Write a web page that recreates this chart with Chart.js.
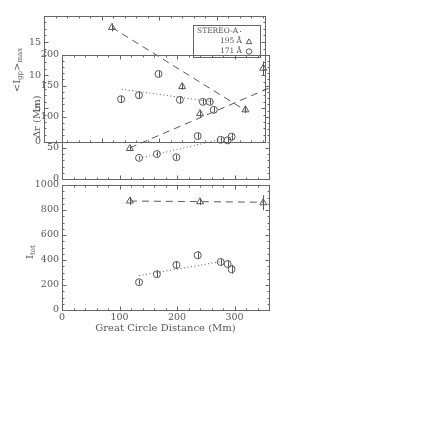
<!DOCTYPE html>
<html>
<head>
<meta charset="utf-8">
<script src="https://cdn.jsdelivr.net/npm/chart.js@4.4.1/dist/chart.umd.min.js"></script>
<style>
  html, body { margin: 0; padding: 0; background: #fff; }
  #wrap { position: relative; width: 442px; height: 443px; }
  #wrap canvas { position: absolute; left: 0; top: 0; }
</style>
</head>
<body>
<div id="wrap">
  <canvas id="igp" width="442" height="443"></canvas>
  <canvas id="dr" width="442" height="443"></canvas>
  <canvas id="itot" width="442" height="443"></canvas>
</div>
<script>
// great circle distance (Mm) of each measurement
const distTri = [118, 240, 350];                    // 195 A
const distCir = [134, 165, 199, 236, 276, 288, 295]; // 171 A

// <I_gp>_max
const igpTri = [17.2, 8.3, 4.8];
const igpTriErr = [0.6, 0.5, 0.5];
const igpCir = [6.4, 7.0, 10.2, 6.3, 6.0, 6.0, 4.8];
const igpCirErr = [0.5, 0.5, 0.5, 0.5, 0.4, 0.4, 0.5];

// delta r (Mm)
const drTri = [49, 105, 178];
const drTriErr = [4, 6, 11];
const drCir = [34, 40, 35, 69, 63, 62, 68];
const drCirErr = [3, 4, 4, 5, 4, 4, 6];

// I_tot
const itotTri = [872, 866, 858];
const itotTriErr = [33, 27, 60];
const itotCir = [222, 286, 360, 438, 384, 368, 326];
const itotCirErr = [20, 30, 32, 32, 30, 30, 36];

// linear fits, start and end points
const igpTriFitX = [118, 352], igpTriFit = [17.2, 4.6];
const igpCirFitX = [135, 293], igpCirFit = [7.9, 6.0];
const drTriFitX = [118, 360], drTriFit = [50, 146];
const drCirFitX = [134, 295], drCirFit = [33, 68];
const itotTriFitX = [118, 350], itotTriFit = [872, 862];
const itotCirFitX = [134, 274], itotCirFit = [275, 385];

// axes
const xTicks = [0, 100, 200, 300];
const igpTicks = [0, 5, 10, 15];
const drTicks = [0, 50, 100, 150, 200];
const itotTicks = [0, 200, 400, 600, 800, 1000];
const legendLabels = ['STEREO-A', '195 Å', '171 Å'];

const ink = '#585858';
const frame = '#666';
const serif = "'DejaVu Serif', serif";
Chart.defaults.font.family = serif;
Chart.defaults.color = ink;

function pts(xs, ys) {
  return xs.map((x, i) => ({ x, y: ys[i] }));
}

function drawTitle(ctx, parts, cx, cy) {
  ctx.save();
  ctx.translate(cx, cy);
  ctx.rotate(-Math.PI / 2);
  ctx.fillStyle = ink;
  ctx.textBaseline = 'middle';
  ctx.textAlign = 'left';
  const big = '10px ' + serif, small = '7px ' + serif;
  let w = 0;
  parts.forEach(([t, sub]) => { ctx.font = sub ? small : big; w += ctx.measureText(t).width; });
  let px = -w / 2;
  parts.forEach(([t, sub]) => {
    ctx.font = sub ? small : big;
    ctx.fillText(t, px, sub ? 3 : 0);
    px += ctx.measureText(t).width;
  });
  ctx.restore();
}

function drawLegend(ctx) {
  ctx.strokeRect(193.5, 25.5, 67, 32);
  ctx.font = '7.5px ' + serif;
  ctx.fillStyle = ink;
  ctx.textBaseline = 'middle';
  ctx.textAlign = 'left';
  ctx.fillText(legendLabels[0], 197, 31);
  ctx.fillRect(240, 31, 1, 1);
  ctx.textAlign = 'right';
  ctx.fillText(legendLabels[1], 242, 41.5);
  ctx.fillText(legendLabels[2], 242, 51.5);
  ctx.fillStyle = 'rgba(0,0,0,0)';
  ctx.strokeStyle = ink;
  Chart.helpers.drawPoint(ctx, { pointStyle: 'triangle', radius: 3.2, borderWidth: 1 }, 249, 42);
  Chart.helpers.drawPoint(ctx, { pointStyle: 'circle', radius: 2.7, borderWidth: 1 }, 249, 51.5);
}

// IDL-like box: frame with inward ticks on all sides, error bars, titles
const idlBox = {
  id: 'idlBox',
  beforeDatasetsDraw(chart) {
    const { ctx, scales: { x, y } } = chart;
    ctx.save();
    ctx.strokeStyle = ink;
    ctx.lineWidth = 1;
    chart.data.datasets.forEach(ds => {
      if (!ds.err) return;
      ds.data.forEach((p, i) => {
        const px = Math.round(x.getPixelForValue(p.x)) + 0.5;
        ctx.beginPath();
        ctx.moveTo(px, y.getPixelForValue(p.y - ds.err[i]));
        ctx.lineTo(px, y.getPixelForValue(p.y + ds.err[i]));
        ctx.stroke();
      });
    });
    ctx.restore();
  },
  afterDatasetsDraw(chart, args, o) {
    const { ctx, chartArea: a, scales: { x, y } } = chart;
    const L = Math.round(a.left) + 0.5, R = Math.round(a.right) + 0.5;
    const T = Math.round(a.top) + 0.5, B = Math.round(a.bottom) + 0.5;
    ctx.save();
    ctx.strokeStyle = frame;
    ctx.lineWidth = 1;
    ctx.strokeRect(L, T, R - L, B - T);
    ctx.beginPath();
    const marks = (scale, step, major) => {
      for (let k = Math.ceil(scale.min / step); k * step <= scale.max + 1e-9; k++) {
        const v = k * step;
        const len = Math.abs(v / major - Math.round(v / major)) < 1e-6 ? 4 : 2;
        const p = Math.round(scale.getPixelForValue(v)) + 0.5;
        if (scale.axis === 'x') {
          ctx.moveTo(p, B); ctx.lineTo(p, B - len);
          ctx.moveTo(p, T); ctx.lineTo(p, T + len);
        } else {
          ctx.moveTo(L, p); ctx.lineTo(L + len, p);
          ctx.moveTo(R, p); ctx.lineTo(R - len, p);
        }
      }
    };
    marks(x, o.xMinor, o.xMajor);
    marks(y, o.yMinor, o.yMajor);
    ctx.stroke();
    if (o.title) drawTitle(ctx, o.title, o.titleX, o.titleY);
    if (o.legend) drawLegend(ctx);
    ctx.restore();
  }
};

function fixBox(size, horizontal) {
  return s => {
    if (horizontal) s.height = size; else s.width = size;
    s.paddingTop = s.paddingBottom = s.paddingLeft = s.paddingRight = 0;
  };
}

function xScale(range, height, showLabels, title) {
  return {
    type: 'linear', min: range[0], max: range[1],
    grid: { display: false, drawTicks: false }, border: { display: false },
    afterBuildTicks: s => { s.ticks = xTicks.map(v => ({ value: v })); },
    ticks: { display: showLabels, color: ink, font: { size: 9.5 }, padding: 2, maxRotation: 0, callback: v => String(v) },
    title: title ? { display: true, text: title, color: ink, font: { size: 10 }, padding: { top: 0, bottom: 0 } } : { display: false },
    afterFit: fixBox(height, true)
  };
}

function yScale(range, ticks, width, title) {
  return {
    type: 'linear', min: range[0], max: range[1],
    grid: { display: false, drawTicks: false }, border: { display: false },
    afterBuildTicks: s => { s.ticks = ticks.map(v => ({ value: v })); },
    ticks: { color: ink, font: { size: 9.5 }, padding: 3, callback: v => String(v) },
    title: title ? { display: true, text: title, color: ink, font: { size: 10 }, padding: { top: 31, bottom: 0 } } : { display: false },
    afterFit: fixBox(width, false)
  };
}

function markers(xs, ys, errs, style, radius) {
  return {
    data: pts(xs, ys), err: errs, pointStyle: style, pointRadius: radius,
    borderColor: ink, backgroundColor: 'rgba(0,0,0,0)', borderWidth: 1, showLine: false
  };
}

function fitLine(xs, ys, dash) {
  return {
    data: pts(xs, ys), showLine: true, pointRadius: 0,
    borderColor: ink, borderWidth: 1, borderDash: dash, fill: false
  };
}

const common = {
  responsive: false,
  animation: false,
  events: [],
  plugins: { legend: { display: false }, tooltip: { enabled: false } }
};

// top panel: <I_gp>_max
new Chart(document.getElementById('igp'), {
  type: 'scatter',
  data: {
    datasets: [
      markers(distTri, igpTri, igpTriErr, 'triangle', 4),
      markers(distCir, igpCir, igpCirErr, 'circle', 3.5),
      fitLine(igpTriFitX, igpTriFit, [7, 5]),
      fitLine(igpCirFitX, igpCirFit, [1, 2.5])
    ]
  },
  options: {
    ...common,
    layout: { padding: { left: 0, top: 15.5, right: 177, bottom: 301.3 } },
    scales: { x: xScale([0, 384], 0, false), y: yScale([0, 19], igpTicks, 44) },
    plugins: {
      ...common.plugins,
      idlBox: {
        xMinor: 20, xMajor: 100, yMinor: 1, yMajor: 5, legend: true,
        title: [['<I'], ['gp', 1], ['>'], ['max', 1]], titleX: 17, titleY: 70
      }
    }
  },
  plugins: [idlBox]
});

// middle panel: delta r
new Chart(document.getElementById('dr'), {
  type: 'scatter',
  data: {
    datasets: [
      markers(distTri, drTri, drTriErr, 'triangle', 4),
      markers(distCir, drCir, drCirErr, 'circle', 3.5),
      fitLine(drTriFitX, drTriFit, [7, 5]),
      fitLine(drCirFitX, drCirFit, [1, 2.5])
    ]
  },
  options: {
    ...common,
    layout: { padding: { left: 0, top: 54.5, right: 173, bottom: 264 } },
    scales: { x: xScale([0, 360], 0, false), y: yScale([0, 200], drTicks, 62, 'Δr (Mm)') },
    plugins: { ...common.plugins, idlBox: { xMinor: 20, xMajor: 100, yMinor: 10, yMajor: 50 } }
  },
  plugins: [idlBox]
});

// bottom panel: I_tot
new Chart(document.getElementById('itot'), {
  type: 'scatter',
  data: {
    datasets: [
      markers(distTri, itotTri, itotTriErr, 'triangle', 4),
      markers(distCir, itotCir, itotCirErr, 'circle', 3.5),
      fitLine(itotTriFitX, itotTriFit, [7, 5]),
      fitLine(itotCirFitX, itotCirFit, [1, 2.5])
    ]
  },
  options: {
    ...common,
    layout: { padding: { left: 0, top: 185, right: 173, bottom: 108.5 } },
    scales: {
      x: xScale([0, 360], 24.5, true, 'Great Circle Distance (Mm)'),
      y: yScale([0, 1000], itotTicks, 62)
    },
    plugins: {
      ...common.plugins,
      idlBox: {
        xMinor: 20, xMajor: 100, yMinor: 50, yMajor: 200,
        title: [['I'], ['tot', 1]], titleX: 30, titleY: 252
      }
    }
  },
  plugins: [idlBox]
});
</script>
</body>
</html>
